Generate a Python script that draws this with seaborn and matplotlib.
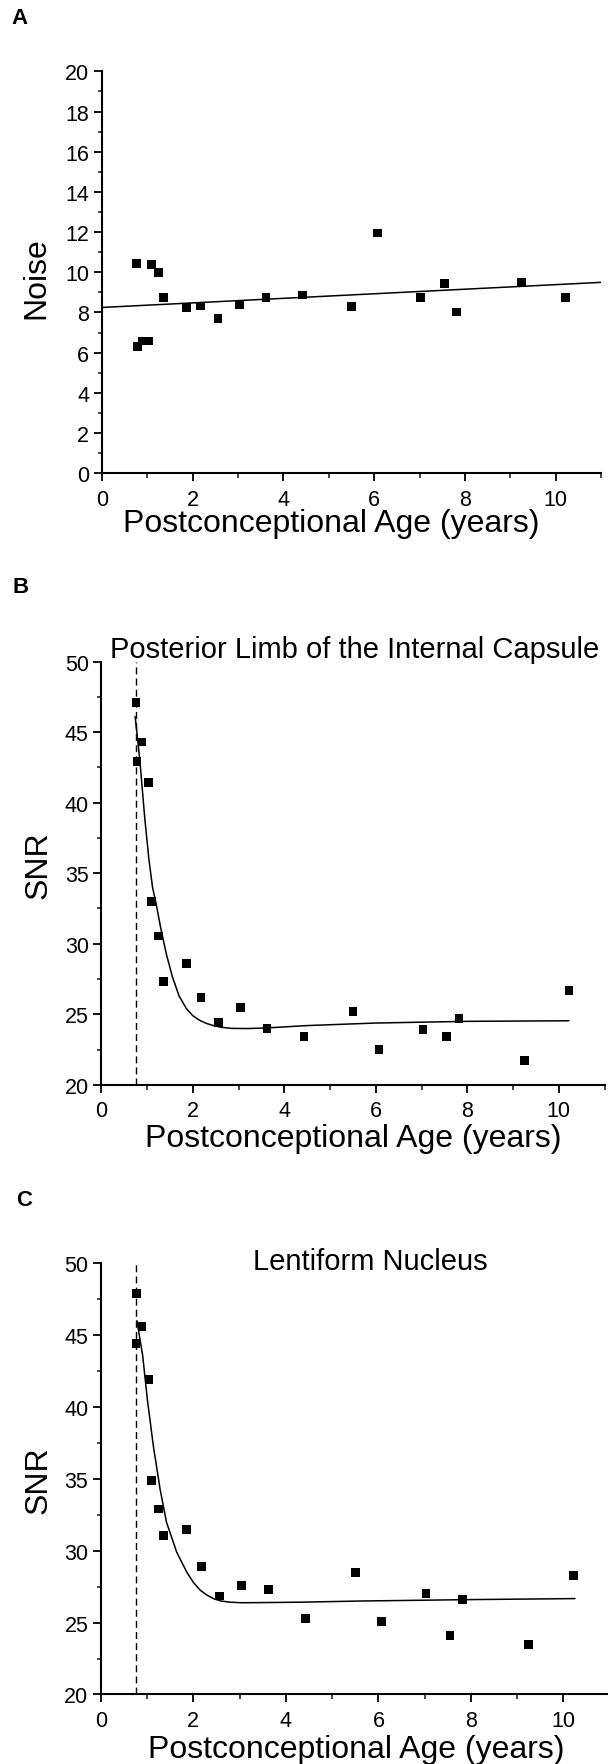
import numpy as np
import pandas as pd
import seaborn as sns
import matplotlib.pyplot as plt
from matplotlib.ticker import MultipleLocator

# ages of the subjects (years, postconceptional)
age = [0.76, 0.78, 0.89, 1.04, 1.09, 1.25, 1.36, 1.86, 2.18, 2.56,
       3.04, 3.62, 4.43, 5.50, 6.07, 7.03, 7.55, 7.82, 9.25, 10.22]

# panel A: noise
noise = [10.45, 6.31, 6.58, 6.58, 10.38, 10.0, 8.75, 8.23, 8.32, 7.72,
         8.37, 8.75, 8.87, 8.28, 11.96, 8.76, 9.44, 8.02, 9.51, 8.76]
noise_fit_x = [0, 11]
noise_fit_y = [8.25, 9.50]

# panel B: posterior limb of the internal capsule
snr_plic = [47.1, 42.9, 44.3, 41.45, 33.0, 30.55, 27.3, 28.6, 26.2, 24.4,
            25.5, 24.0, 23.4, 25.2, 22.5, 23.9, 23.4, 24.7, 21.7, 26.7]
plic_fit_x = [0.74, 0.84, 0.95, 1.04, 1.12, 1.20, 1.30, 1.42, 1.55, 1.70,
              1.86, 2.00, 2.15, 2.30, 2.45, 2.62, 2.85, 3.20, 3.60, 4.50,
              6.00, 8.00, 10.22]
plic_fit_y = [46.1, 43.1, 38.9, 36.0, 34.0, 32.8, 31.1, 29.3, 27.7, 26.3,
              25.4, 24.9, 24.57, 24.35, 24.2, 24.08, 24.0, 23.99, 24.03, 24.2,
              24.38, 24.5, 24.54]

# panel C: lentiform nucleus
snr_lent = [44.4, 47.9, 45.6, 41.9, 34.9, 32.9, 31.05, 31.5, 28.9, 26.85,
            27.6, 27.3, 25.3, 28.5, 25.1, 27.0, 24.1, 26.6, 23.5, 28.25]
lent_fit_x = [0.78, 0.905, 1.005, 1.135, 1.28, 1.42, 1.64, 1.86, 2.00, 2.15,
              2.30, 2.45, 2.60, 2.80, 3.05, 3.44, 4.31, 5.60, 8.00, 10.25]
lent_fit_y = [46.0, 43.57, 40.55, 37.3, 34.3, 31.98, 29.9, 28.5, 27.8, 27.25,
              26.9, 26.65, 26.5, 26.42, 26.38, 26.39, 26.42, 26.5, 26.6, 26.67]

term_age = 0.75  # dashed reference line

sns.set_theme(style="ticks")
plt.rcParams["font.family"] = ["Liberation Sans", "DejaVu Sans"]
plt.rcParams["axes.linewidth"] = 1.5

W, H = 608, 1765
fig = plt.figure(figsize=(W / 100, H / 100), dpi=100)

ax_a = fig.add_axes([0.1673, 0.7313, 0.8214, 0.2277])
ax_b = fig.add_axes([0.1666, 0.3848, 0.8278, 0.2398])
ax_c = fig.add_axes([0.1658, 0.03938, 0.8370, 0.2444])


def style_axis(ax, ymin, ymax, ymajor):
    ax.set_xlim(0, 11)
    ax.set_ylim(ymin, ymax)
    ax.xaxis.set_major_locator(MultipleLocator(2))
    ax.xaxis.set_minor_locator(MultipleLocator(1))
    ax.yaxis.set_major_locator(MultipleLocator(ymajor))
    ax.yaxis.set_minor_locator(MultipleLocator(ymajor / 2))
    ax.tick_params(axis="both", which="major", labelsize=15.5, width=1.3,
                   color="black", labelcolor="black")
    ax.tick_params(axis="x", which="major", length=6, pad=5)
    ax.tick_params(axis="y", which="major", length=6, pad=3)
    ax.tick_params(axis="x", which="minor", length=3.6, width=1.2)
    ax.tick_params(axis="y", which="minor", length=3.1, width=1.2)
    for s in ["left", "bottom"]:
        ax.spines[s].set_color("black")
    ax.set_xlabel("")
    ax.set_ylabel("")
    sns.despine(ax=ax)


def draw_points(ax, y):
    df = pd.DataFrame({"age": age, "val": y})
    sns.scatterplot(data=df, x="age", y="val", ax=ax, marker="s", s=40,
                    color="black", edgecolor="none", zorder=3)


def draw_fit(ax, fx, fy):
    df = pd.DataFrame({"x": fx, "y": fy})
    sns.lineplot(data=df, x="x", y="y", ax=ax, color="black", lw=1.1,
                 sort=False, estimator=None, zorder=2)


# A
draw_points(ax_a, noise)
draw_fit(ax_a, noise_fit_x, noise_fit_y)
style_axis(ax_a, 0, 20, 2)

# B
draw_points(ax_b, snr_plic)
draw_fit(ax_b, plic_fit_x, plic_fit_y)
ax_b.axvline(term_age, color="black", lw=1.0, ls=(0, (5, 3)), zorder=1)
style_axis(ax_b, 20, 50, 5)

# C
draw_points(ax_c, snr_lent)
draw_fit(ax_c, lent_fit_x, lent_fit_y)
ax_c.axvline(term_age + 0.01, color="black", lw=1.0, ls=(0, (5, 3)), zorder=1)
style_axis(ax_c, 20, 50, 5)

xlab = "Postconceptional Age (years)"
lab_kw = dict(fontsize=23, color="black", ha="center", va="baseline")
ax_a.text(0.460, -0.1429, xlab, transform=ax_a.transAxes, **lab_kw)
ax_b.text(0.5005, -0.1456, xlab, transform=ax_b.transAxes, **lab_kw)
ax_c.text(0.502, -0.145, xlab, transform=ax_c.transAxes, **lab_kw)

ylab_kw = dict(fontsize=23, color="black", ha="center", va="baseline",
               rotation=90, rotation_mode="anchor")
ax_a.text(-0.1143, 0.487, "Noise", transform=ax_a.transAxes, **ylab_kw)
ax_b.text(-0.1089, 0.5203, "SNR", transform=ax_b.transAxes, **ylab_kw)
ax_c.text(-0.1067, 0.4997, "SNR", transform=ax_c.transAxes, **ylab_kw)

title_kw = dict(fontsize=21, color="black", ha="center", va="baseline")
ax_b.text(0.5037, 1.0118, "Posterior Limb of the Internal Capsule",
          transform=ax_b.transAxes, **title_kw)
ax_c.text(0.5303, 0.9866, "Lentiform Nucleus",
          transform=ax_c.transAxes, **title_kw)

letter_kw = dict(fontsize=16, fontweight="bold", color="black",
                 ha="center", va="center")
fig.text(20 / W, 1 - 18 / H, "A", **letter_kw)
fig.text(21 / W, 1 - 588 / H, "B", **letter_kw)
fig.text(24 / W, 1 - 1200 / H, "C", **letter_kw)

fig.savefig("out.png", dpi=100, facecolor="white")
